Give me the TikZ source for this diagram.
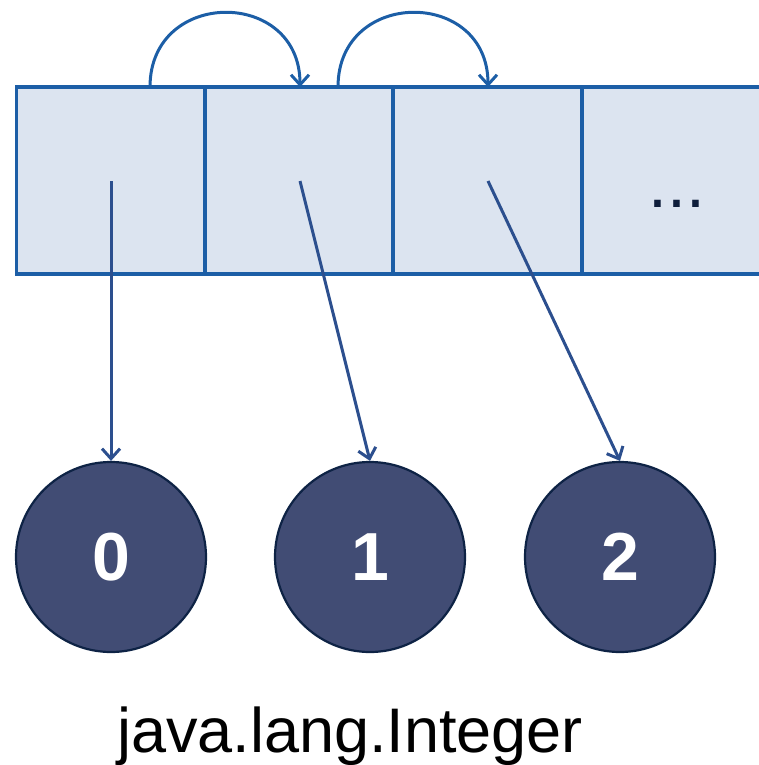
\documentclass[tikz,border=0pt]{standalone}
\usepackage{fontspec}
\setmainfont{Liberation Sans}
\usetikzlibrary{arrows.meta}
\definecolor{cellfill}{HTML}{DCE4F0}
\definecolor{celledge}{HTML}{1C5EA6}
\definecolor{ptrcol}{HTML}{2C4F8E}
\definecolor{objfill}{HTML}{414C74}
\definecolor{objedge}{HTML}{0E2345}
\definecolor{dotcol}{HTML}{0F1E3C}
\tikzset{
  cell/.style={draw=celledge, fill=cellfill, line width=3.2pt,
    minimum width=188pt, minimum height=187pt, inner sep=0pt},
  obj/.style={circle, draw=objedge, fill=objfill, line width=2.2pt,
    minimum size=190pt, inner sep=0pt, text=white,
    font=\fontsize{68}{72}\selectfont\bfseries},
  barb/.style={-{Straight Barb[length=10pt,width=18pt]}},
  link/.style={barb, draw=celledge, line width=3pt},
  ref/.style={barb, draw=ptrcol, line width=3pt},
}
\begin{document}
\begin{tikzpicture}[x=1pt,y=-1pt]
  \useasboundingbox (0,0) rectangle (758,765);
  % array slots
  \node[cell] (cell0) at (110.5,180.5) {};
  \node[cell] (cell1) at (299,180.5) {};
  \node[cell] (cell2) at (487.5,180.5) {};
  \node[cell] (cell3) at (676,180.5) {};
  \node[font=\fontsize{68}{72}\selectfont, text=dotcol, anchor=base]
    (more) at (677,207) {...};
  % slot links along the top edge
  \coordinate (l0) at (150,87);
  \coordinate (l1) at (300,87);
  \coordinate (l2) at (338,87);
  \coordinate (l3) at (488,87);
  \draw[link] (l0) .. controls (150,-12) and (300,-12) .. (l1);
  \draw[link] (l2) .. controls (338,-12) and (488,-12) .. (l3);
  % boxed Integer objects
  \node[obj] (c0) at (111,557) {0};
  \node[obj] (c1) at (370,557) {1};
  \node[obj] (c2) at (620,557) {2};
  % references from slots to objects
  \coordinate (p0) at (111,181);
  \coordinate (p1) at (300,181);
  \coordinate (p2) at (488,181);
  \draw[ref] (p0) -- (c0.north);
  \draw[ref] (p1) -- (c1.north);
  \draw[ref] (p2) -- (c2.north);
  % caption
  \node[font=\fontsize{63}{70}\selectfont, anchor=base] (cap) at (350,752)
    {java.lang.Integer};
\end{tikzpicture}
\end{document}
